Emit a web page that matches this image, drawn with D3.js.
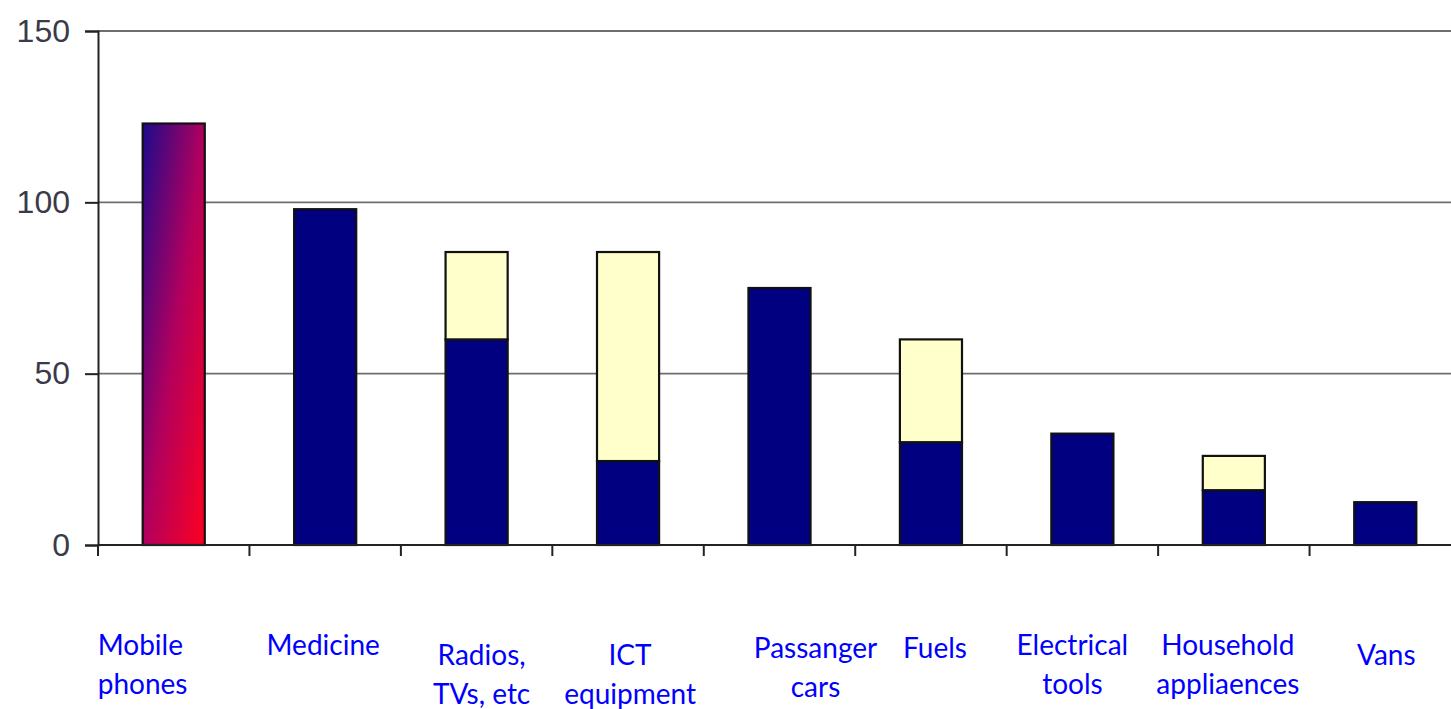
<!DOCTYPE html>
<html>
<head>
<meta charset="utf-8">
<script src="https://cdn.jsdelivr.net/npm/d3@7"></script>
<style>
  body { margin: 0; background: #fff; overflow: hidden; }
  svg { display: block; }
</style>
</head>
<body>
<script>
var categories = ['Mobile phones', 'Medicine', 'Radios, TVs, etc', 'ICT equipment', 'Passanger cars',
  'Fuels', 'Electrical tools', 'Household appliaences', 'Vans'];
var labelLines = [['Mobile', 'phones'], ['Medicine'], ['Radios,', 'TVs, etc'], ['ICT', 'equipment'],
  ['Passanger', 'cars'], ['Fuels'], ['Electrical', 'tools'], ['Household', 'appliaences'], ['Vans']];
var baseValues = [123, 98, 60, 24.5, 75, 30, 32.5, 16, 12.5];
var extraValues = [0, 0, 25.5, 61, 0, 30, 0, 10, 0];
var yTicks = [0, 50, 100, 150];

// hand placed labels in the original slide
var labelShift = [[-76, 0, 'start'], [-2, 0], [5, 10], [2, 10], [36, 3], [4, 3], [-10, 0], [-6, 0], [1, 10]];

var w = 1451, h = 709;
var svg = d3.select('body').append('svg').attr('width', w).attr('height', h);

var x = d3.scaleBand().domain(categories).range([98, 1461]).padding(0);
var y = d3.scaleLinear().domain([0, 150]).range([545, 31]);
var barW = x.bandwidth() * 0.41;

var defs = svg.append('defs');
var grad = defs.append('linearGradient').attr('id', 'mob')
  .attr('x1', '0').attr('y1', '0').attr('x2', '1').attr('y2', '1');
grad.append('stop').attr('offset', '0%').attr('stop-color', '#1c0a8c');
grad.append('stop').attr('offset', '50%').attr('stop-color', '#b0005e');
grad.append('stop').attr('offset', '100%').attr('stop-color', '#ff0020');

// gridlines
svg.append('g').selectAll('line')
  .data(yTicks.slice(1))
  .enter()
  .append('line')
  .attr('x1', 98).attr('x2', w)
  .attr('y1', function(d) { return y(d); })
  .attr('y2', function(d) { return y(d); })
  .attr('stroke', '#6e6e6e')
  .attr('stroke-width', 1.8);

var rows = categories.map(function(c, i) {
  return { cat: c, base: baseValues[i], extra: extraValues[i] };
});
var stack = d3.stack().keys(['base', 'extra'])(rows);

svg.append('g').selectAll('g')
  .data(stack)
  .enter()
  .append('g')
  .selectAll('rect')
  .data(function(s) {
    return s.map(function(d) { d.key = s.key; return d; })
      .filter(function(d) { return d[1] - d[0] > 0; });
  })
  .enter()
  .append('rect')
  .attr('x', function(d) { return x(d.data.cat) + (x.bandwidth() - barW) / 2; })
  .attr('y', function(d) { return y(d[1]); })
  .attr('width', barW)
  .attr('height', function(d) { return y(d[0]) - y(d[1]); })
  .attr('fill', function(d) {
    if (d.key === 'extra') return '#ffffcc';
    return d.data.cat === 'Mobile phones' ? 'url(#mob)' : '#000080';
  })
  .attr('stroke', '#111')
  .attr('stroke-width', 2.2);

// y axis
var yAxis = svg.append('g')
  .attr('transform', 'translate(98,0)')
  .call(d3.axisLeft(y).tickValues(yTicks).tickSize(13).tickPadding(15).tickFormat(d3.format('d')));
yAxis.select('.domain').attr('stroke', '#222').attr('stroke-width', 2);
yAxis.selectAll('.tick line').attr('stroke', '#222').attr('stroke-width', 2);
yAxis.selectAll('.tick text')
  .attr('font-family', 'Liberation Sans, Arial, sans-serif')
  .attr('font-size', 32)
  .attr('fill', '#3a3a4a');

// x axis line and tick marks at band edges
svg.append('line')
  .attr('x1', 98).attr('x2', w)
  .attr('y1', y(0)).attr('y2', y(0))
  .attr('stroke', '#222').attr('stroke-width', 2);
var edges = categories.map(function(c) { return x(c); }).concat([x.range()[1]]);
svg.append('g').selectAll('line')
  .data(edges)
  .enter()
  .append('line')
  .attr('x1', function(d) { return d; })
  .attr('x2', function(d) { return d; })
  .attr('y1', y(0))
  .attr('y2', y(0) + 11)
  .attr('stroke', '#222')
  .attr('stroke-width', 2);

// category labels
var lab = svg.append('g').selectAll('text')
  .data(categories)
  .enter()
  .append('text')
  .attr('font-family', 'Lato, sans-serif')
  .attr('font-size', 28)
  .attr('fill', '#0000ff')
  .attr('text-anchor', function(d, i) { return labelShift[i][2] || 'middle'; })
  .attr('transform', function(d, i) {
    return 'translate(' + (x(d) + x.bandwidth() / 2 + labelShift[i][0]) + ',' + (655 + labelShift[i][1]) + ')';
  });
lab.selectAll('tspan')
  .data(function(d, i) { return labelLines[i]; })
  .enter()
  .append('tspan')
  .attr('x', 0)
  .attr('y', function(d, j) { return j * 39; })
  .text(function(d) { return d; });
</script>
</body>
</html>
